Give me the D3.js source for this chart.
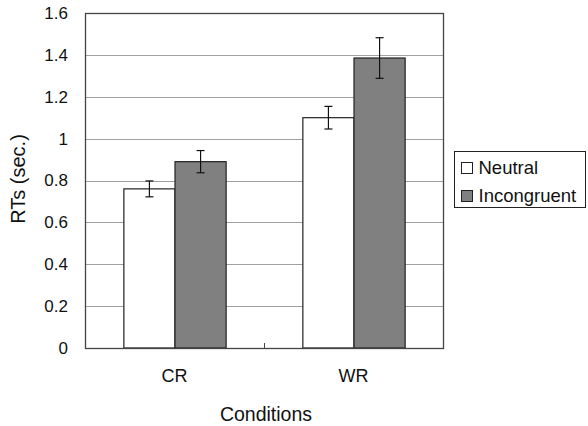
<!DOCTYPE html>
<html>
<head>
<meta charset="utf-8">
<script src="https://cdn.jsdelivr.net/npm/d3@7"></script>
<style>
  body { margin: 0; background: #fff; }
  svg { display: block; font-family: "Liberation Sans", Arial, sans-serif; }
</style>
</head>
<body>
<div id="chart"></div>
<script>
// chart data
const conditions = ["CR", "WR"];
const seriesNames = ["Neutral", "Incongruent"];
const neutralMeans = [0.76, 1.10];
const neutralErrors = [0.038, 0.054];
const incongruentMeans = [0.89, 1.385];
const incongruentErrors = [0.053, 0.097];
const yTicks = [0, 0.2, 0.4, 0.6, 0.8, 1, 1.2, 1.4, 1.6];

const width = 588, height = 426;
const margin = { top: 13, right: 145, bottom: 78, left: 85 };
const innerW = width - margin.left - margin.right;
const innerH = height - margin.top - margin.bottom;
const colors = ["#ffffff", "#808080"];
const font = "Liberation Sans, Arial, sans-serif";

const svg = d3.select("#chart").append("svg")
    .attr("width", width)
    .attr("height", height);

const g = svg.append("g")
    .attr("transform", `translate(${margin.left},${margin.top})`);

const x = d3.scaleBand()
    .domain(conditions)
    .range([0, innerW]);

const x1 = d3.scaleBand()
    .domain(seriesNames)
    .range([0, x.bandwidth()])
    .paddingInner(0)
    .paddingOuter(0.75);

const y = d3.scaleLinear()
    .domain([0, 1.6])
    .range([innerH, 0]);

// gridlines
g.append("g")
    .selectAll("line")
    .data(yTicks.slice(1, -1))
    .join("line")
    .attr("x1", 0)
    .attr("x2", innerW)
    .attr("y1", d => Math.round(y(d)) + 0.5)
    .attr("y2", d => Math.round(y(d)) + 0.5)
    .attr("stroke", "#a0a0a0")
    .attr("stroke-width", 1);

// y axis labels
const yAxis = g.append("g")
    .call(d3.axisLeft(y).tickValues(yTicks).tickFormat(d3.format("~g")).tickSize(0).tickPadding(17));
yAxis.select(".domain").remove();
yAxis.selectAll("text")
    .attr("font-size", 17)
    .attr("fill", "#111")
    .attr("font-family", font);

// x axis labels
const xAxis = g.append("g")
    .attr("transform", `translate(0,${innerH})`)
    .call(d3.axisBottom(x).tickSize(0).tickPadding(21));
xAxis.select(".domain").remove();
xAxis.selectAll("text")
    .attr("font-size", 18)
    .attr("fill", "#111")
    .attr("font-family", font);

// bars
const rows = conditions.map((c, i) => ({
    cond: c,
    vals: [
        { name: seriesNames[0], v: neutralMeans[i], e: neutralErrors[i] },
        { name: seriesNames[1], v: incongruentMeans[i], e: incongruentErrors[i] }
    ]
}));

const groups = g.selectAll(".grp")
    .data(rows)
    .join("g")
    .attr("class", "grp")
    .attr("transform", d => `translate(${x(d.cond)},0)`);

groups.selectAll("rect")
    .data(d => d.vals)
    .join("rect")
    .attr("x", d => x1(d.name) + 0.5)
    .attr("y", d => y(d.v))
    .attr("width", x1.bandwidth())
    .attr("height", d => innerH - y(d.v))
    .attr("fill", (d, i) => colors[i])
    .attr("stroke", "#222")
    .attr("stroke-width", 1.2);

// error bars
const eb = groups.selectAll(".err")
    .data(d => d.vals)
    .join("g")
    .attr("class", "err")
    .attr("stroke", "#111")
    .attr("stroke-width", 1.2);
const cx = d => x1(d.name) + x1.bandwidth() / 2 + 0.5;
eb.append("line")
    .attr("x1", cx).attr("x2", cx)
    .attr("y1", d => y(d.v + d.e)).attr("y2", d => y(d.v - d.e));
eb.append("line")
    .attr("x1", d => cx(d) - 4).attr("x2", d => cx(d) + 4)
    .attr("y1", d => y(d.v + d.e)).attr("y2", d => y(d.v + d.e));
eb.append("line")
    .attr("x1", d => cx(d) - 4).attr("x2", d => cx(d) + 4)
    .attr("y1", d => y(d.v - d.e)).attr("y2", d => y(d.v - d.e));

// plot frame
g.append("rect")
    .attr("x", 0.5).attr("y", 0.5)
    .attr("width", innerW).attr("height", innerH)
    .attr("fill", "none")
    .attr("stroke", "#444")
    .attr("stroke-width", 1.3);

// middle category tick (inside)
g.append("line")
    .attr("x1", x("WR") + 0.5).attr("x2", x("WR") + 0.5)
    .attr("y1", innerH).attr("y2", innerH - 5)
    .attr("stroke", "#444");

// axis titles
svg.append("text")
    .attr("transform", `translate(25,${margin.top + 166}) rotate(-90)`)
    .attr("text-anchor", "middle")
    .attr("font-size", 20)
    .attr("fill", "#111")
    .text("RTs (sec.)");

svg.append("text")
    .attr("x", margin.left + innerW / 2 + 2)
    .attr("y", 421)
    .attr("text-anchor", "middle")
    .attr("font-size", 19.5)
    .attr("fill", "#111")
    .text("Conditions");

// legend
const legend = svg.append("g").attr("transform", "translate(454.5,151.5)");
legend.append("rect")
    .attr("width", 131).attr("height", 56)
    .attr("fill", "#fff")
    .attr("stroke", "#222");
const li = legend.selectAll(".li")
    .data(seriesNames)
    .join("g")
    .attr("class", "li")
    .attr("transform", (d, i) => `translate(7,${11 + i * 28})`);
li.append("rect")
    .attr("width", 11).attr("height", 11)
    .attr("fill", (d, i) => colors[i])
    .attr("stroke", "#222");
li.append("text")
    .attr("x", 17)
    .attr("y", 11)
    .attr("font-size", 18.5)
    .attr("fill", "#111")
    .text(d => d);
</script>
</body>
</html>
